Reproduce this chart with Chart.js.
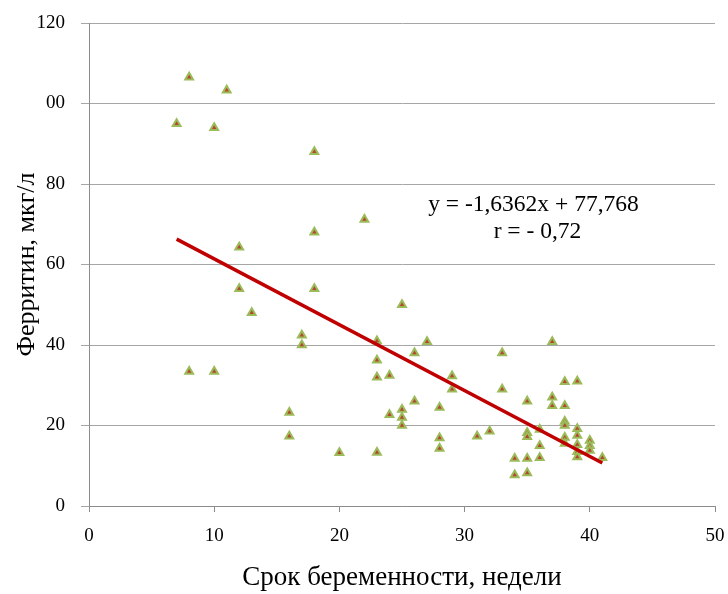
<!DOCTYPE html>
<html lang="ru">
<head>
    <meta charset="UTF-8">
    <title>Ферритин и срок беременности</title>
    <style>
        body {
            margin: 0;
            padding: 0;
            background-color: #fff;
        }

        .wrap {
            width: 728px;
            height: 594px;
            position: relative;
        }
    </style>
</head>
<body>
    <div class="wrap">
        <canvas id="ferritinChart" width="728" height="594"></canvas>
    </div>

    <script src="https://cdn.jsdelivr.net/npm/chart.js"></script>

    <script>
        // gestational week of each patient
        const weeks = [
            7, 8, 10, 11, 18, 22, 18, 12, 12, 18,
            13, 25, 17, 17, 23, 23, 23, 24, 8, 10,
            16, 16, 20, 23, 24, 25, 25, 25, 27, 26,
            26, 29, 29, 28, 28, 28, 31, 32, 33, 33,
            34, 34, 35, 35, 35, 35, 35, 36, 36, 36,
            37, 37, 37, 38, 38, 38, 38, 38, 38, 39,
            39, 39, 39, 39, 39, 40, 40, 40, 41
        ];
        // ferritin, mcg/l
        const ferritin = [
            95, 106.5, 94, 103.3, 88, 71.2, 68, 64.3, 54, 54,
            48, 50, 42.4, 40, 41, 36.2, 32, 32.4, 33.4, 33.4,
            23.2, 17.3, 13.2, 13.3, 22.7, 24, 22, 20, 40.8, 38,
            26, 32.3, 29, 24.5, 16.9, 14.3, 17.3, 18.6, 38, 29,
            11.8, 7.7, 26, 18.2, 17.2, 11.8, 8.2, 19, 15, 12,
            40.8, 27, 24.9, 30.9, 24.9, 21, 20, 17, 15.5, 31,
            19.2, 17.5, 15.2, 13.5, 12.2, 16.3, 15, 13.8, 12
        ];

        // trend line end points
        const trendWeeks = [7, 41];
        const trendValues = [66.3, 10.7];

        const xTicks = [0, 10, 20, 30, 40, 50];
        const yTicks = [0, 20, 40, 60, 80, 100, 120];
        const yTickLabels = ['0', '20', '40', '60', '80', '00', '120'];

        const equationLines = ['y = -1,6362x + 77,768', 'r = - 0,72'];

        const serif = "'Liberation Serif', 'Times New Roman', serif";

        let pointData = weeks.map((w, i) => ({ x: w, y: ferritin[i] }));
        let trendData = trendWeeks.map((w, i) => ({ x: w, y: trendValues[i] }));

        // equation text next to the trend line
        const equationPlugin = {
            id: 'equation',
            afterDatasetsDraw(chart) {
                let ctx = chart.ctx;
                let xs = chart.scales.x;
                let ys = chart.scales.y;
                let cx = xs.getPixelForValue(35.5);
                let cy = ys.getPixelForValue(74.8);
                ctx.save();
                ctx.fillStyle = '#000';
                ctx.font = '23.5px ' + serif;
                ctx.textAlign = 'center';
                ctx.textBaseline = 'middle';
                ctx.fillText(equationLines[0], cx, cy);
                ctx.fillText(equationLines[1], cx + 4, cy + 27);
                ctx.restore();
            }
        };

        // keep the plot box where the reference has it
        function fixPadding(s) {
            s.paddingLeft = 0;
            s.paddingRight = 0;
            s.paddingTop = 0;
            s.paddingBottom = 0;
        }

        let ctx = document.getElementById('ferritinChart').getContext('2d');
        let chart = new Chart(ctx, {
            type: 'scatter',
            data: {
                datasets: [
                    {
                        label: 'Ферритин',
                        data: pointData,
                        pointStyle: 'triangle',
                        pointRadius: 4.5,
                        backgroundColor: '#b5462f',
                        borderColor: '#9bbb59',
                        borderWidth: 2,
                        order: 2
                    },
                    {
                        label: 'Тренд',
                        data: trendData,
                        showLine: true,
                        pointRadius: 0,
                        borderColor: '#c00000',
                        borderWidth: 3.5,
                        order: 1
                    }
                ]
            },
            options: {
                responsive: false,
                animation: false,
                layout: {
                    padding: { left: 0, right: 13, top: 23, bottom: 0 }
                },
                plugins: {
                    legend: { display: false },
                    tooltip: { enabled: false }
                },
                scales: {
                    x: {
                        type: 'linear',
                        min: 0,
                        max: 50,
                        afterBuildTicks: s => { s.ticks = xTicks.map(v => ({ value: v })); },
                        afterFit: s => { s.height = 88; fixPadding(s); },
                        border: { display: true, color: '#8c8c8c', width: 1 },
                        grid: {
                            drawOnChartArea: false,
                            drawTicks: true,
                            tickLength: 6,
                            color: '#8c8c8c'
                        },
                        ticks: {
                            padding: 13,
                            color: '#000',
                            font: { family: serif, size: 19 }
                        },
                        title: {
                            display: true,
                            text: 'Срок беременности, недели',
                            color: '#000',
                            font: { family: serif, size: 27 },
                            padding: { top: 0, bottom: 0 }
                        }
                    },
                    y: {
                        type: 'linear',
                        min: 0,
                        max: 120,
                        afterBuildTicks: s => { s.ticks = yTicks.map(v => ({ value: v })); },
                        afterFit: s => { s.width = 89; fixPadding(s); },
                        border: { display: true, color: '#8c8c8c', width: 1 },
                        grid: {
                            color: '#a6a6a6',
                            lineWidth: 1,
                            drawTicks: true,
                            tickLength: 8
                        },
                        ticks: {
                            padding: 16,
                            color: '#000',
                            font: { family: serif, size: 19 },
                            callback: v => yTickLabels[yTicks.indexOf(v)]
                        },
                        title: {
                            display: true,
                            text: 'Ферритин, мкг/л',
                            color: '#000',
                            font: { family: serif, size: 26 },
                            padding: { top: 12, bottom: 0 }
                        }
                    }
                }
            },
            plugins: [equationPlugin]
        });
    </script>
</body>
</html>
